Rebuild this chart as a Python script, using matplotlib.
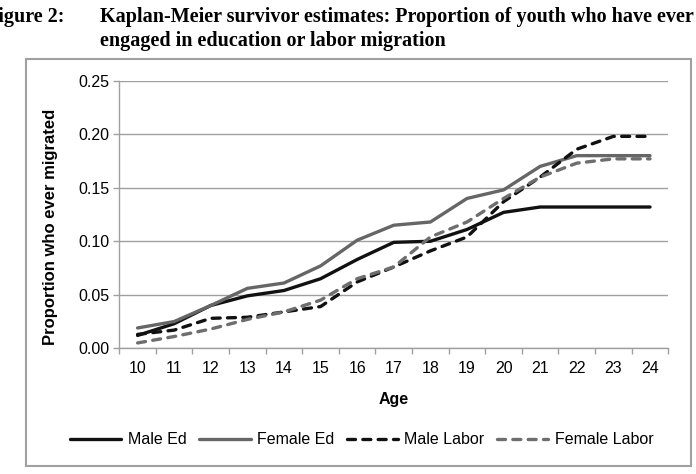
import matplotlib.pyplot as plt
from matplotlib.patches import Rectangle
from matplotlib.ticker import FixedLocator

plt.rcParams['font.family'] = ['Liberation Sans', 'DejaVu Sans']

ages = [10, 11, 12, 13, 14, 15, 16, 17, 18, 19, 20, 21, 22, 23, 24]
male_ed = [0.012, 0.023, 0.040, 0.049, 0.054, 0.065, 0.083, 0.099, 0.100, 0.111, 0.127, 0.132, 0.132, 0.132, 0.132]
female_ed = [0.019, 0.025, 0.040, 0.056, 0.061, 0.077, 0.101, 0.115, 0.118, 0.140, 0.148, 0.170, 0.180, 0.180, 0.180]
male_labor = [0.013, 0.017, 0.028, 0.029, 0.034, 0.039, 0.062, 0.076, 0.091, 0.104, 0.137, 0.160, 0.186, 0.198, 0.198]
female_labor = [0.005, 0.011, 0.018, 0.027, 0.034, 0.045, 0.065, 0.076, 0.104, 0.118, 0.140, 0.160, 0.173, 0.177, 0.177]
yticks = [0.00, 0.05, 0.10, 0.15, 0.20, 0.25]

fig = plt.figure(figsize=(6.96, 4.74), dpi=100)
ax = fig.add_axes([0.1714, 0.2652, 0.7888, 0.5645])

x = list(range(len(ages)))
grid_c = '#a0a0a0'
lw = 2.4
dash = (0, (2.4, 2.2))
ax.plot(x, male_ed, color='#111111', lw=lw, label='Male Ed', solid_capstyle='round')
ax.plot(x, female_ed, color='#666666', lw=lw, label='Female Ed', solid_capstyle='round')
ax.plot(x, male_labor, color='#111111', lw=lw, ls=dash, dash_capstyle='round', label='Male Labor')
ax.plot(x, female_labor, color='#6e6e6e', lw=lw, ls=dash, dash_capstyle='round', label='Female Labor')

ax.set_xlim(-0.5, len(ages) - 0.5)
ax.set_ylim(0, 0.25)
ax.set_yticks(yticks)
ax.set_yticklabels(['%.2f' % v for v in yticks])
ax.set_xticks(x)
ax.set_xticklabels([str(a) for a in ages])
ax.xaxis.set_minor_locator(FixedLocator([i - 0.5 for i in range(len(ages) + 1)]))
ax.tick_params(axis='x', which='major', length=0, labelsize=11.5, pad=9)
ax.tick_params(axis='x', which='minor', length=4, color=grid_c, width=1)
ax.tick_params(axis='y', length=4, color=grid_c, width=1, labelsize=11.5, pad=3)
ax.grid(axis='y', color=grid_c, lw=1)
ax.set_axisbelow(True)
for s in ['top', 'right']:
    ax.spines[s].set_visible(False)
for s in ['left', 'bottom']:
    ax.spines[s].set_color(grid_c)
    ax.spines[s].set_linewidth(1)

ax.set_xlabel('Age', fontsize=11.5, fontweight='bold')
ax.xaxis.set_label_coords(0.5, -0.163)
ax.set_ylabel('Proportion who ever migrated', fontsize=12, fontweight='bold')
ax.yaxis.set_label_coords(-0.112, 0.453)

fig.legend(loc='center', bbox_to_anchor=(0.52, 1 - 440 / 474), ncol=4, frameon=False,
           fontsize=11.5, handlelength=3.2, handletextpad=0.4, columnspacing=0.8)

fig.patches.append(Rectangle((0.0374, 0.0169), 0.955, 0.8576, transform=fig.transFigure,
                             fill=False, edgecolor=grid_c, lw=1.5))

title_font = dict(family='Liberation Serif', fontweight='bold', fontsize=14.5, va='baseline')
fig.text(-14 / 696, 1 - 22 / 474, 'Figure 2:', **title_font)
fig.text(100 / 696, 1 - 22 / 474, 'Kaplan-Meier survivor estimates: Proportion of youth who have ever', **title_font)
fig.text(100 / 696, 1 - 46 / 474, 'engaged in education or labor migration', **title_font)

fig.savefig('out.png', dpi=100)
